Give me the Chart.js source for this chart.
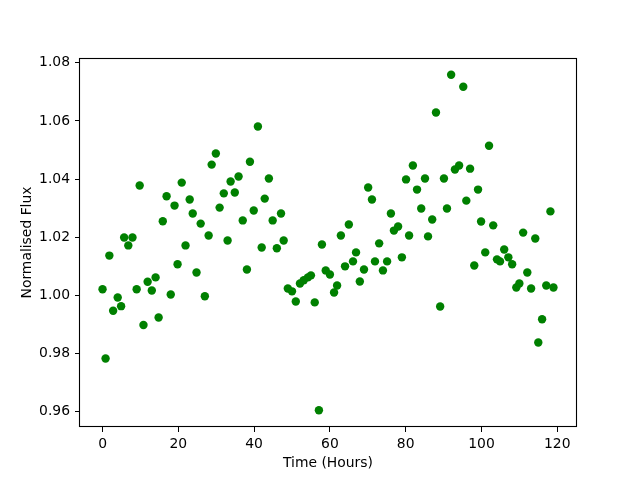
<!DOCTYPE html>
<html>
<head>
<meta charset="utf-8">
<script src="https://cdn.jsdelivr.net/npm/chart.js@4/dist/chart.umd.min.js"></script>
<style>
  html, body { margin: 0; padding: 0; background: #ffffff; }
  canvas { display: block; }
</style>
</head>
<body>
<canvas id="c" width="640" height="480"></canvas>
<script>
const timeHours = [
  0, 0.8, 1.8, 2.8, 4.0, 4.9, 5.7, 6.8, 7.9, 9.0,
  9.8, 10.8, 11.9, 13.0, 14.0, 14.8, 15.9, 16.9, 18.0, 19.0,
  19.8, 20.9, 21.9, 23.0, 23.8, 24.8, 25.9, 27.0, 28.0, 28.8,
  29.9, 30.9, 32.0, 33.0, 33.8, 34.9, 35.9, 37.0, 38.1, 38.9,
  39.9, 41.0, 42.0, 42.8, 43.9, 44.9, 46.0, 47.1, 47.8, 48.9,
  50.0, 51.0, 52.1, 53.1, 54.2, 55.0, 56.0, 57.1, 57.9, 58.9,
  60.0, 61.1, 61.9, 62.9, 64.0, 65.0, 66.1, 66.9, 67.9, 69.0,
  70.1, 71.1, 71.9, 73.0, 74.0, 75.1, 76.1, 76.9, 78.0, 79.0,
  80.1, 80.9, 81.9, 83.0, 84.1, 85.1, 85.9, 87.0, 88.0, 89.1,
  90.1, 90.9, 92.0, 93.0, 94.1, 95.2, 96.0, 97.0, 98.1, 99.1,
  99.9, 101.0, 102.0, 103.1, 104.1, 104.9, 106.0, 107.1, 108.1, 109.2,
  110.0, 111.0, 112.1, 113.1, 114.2, 115.0, 116.0, 117.1, 118.2, 119.0
];

const normalisedFlux = [
  1.0021, 0.9783, 1.0137, 0.9947, 0.9993, 0.9963, 1.0199, 1.0172, 1.0199, 1.0021,
  1.0378, 0.9898, 1.0047, 1.0017, 1.0062, 0.9924, 1.0255, 1.0341, 1.0003, 1.0309,
  1.0107, 1.0388, 1.0172, 1.0330, 1.0282, 1.0079, 1.0247, 0.9997, 1.0206, 1.0450,
  1.0488, 1.0302, 1.0351, 1.0189, 1.0392, 1.0354, 1.0409, 1.0258, 1.0089, 1.0460,
  1.0292, 1.0581, 1.0165, 1.0333, 1.0402, 1.0258, 1.0162, 1.0282, 1.0189, 1.0024,
  1.0014, 0.9979, 1.0041, 1.0052, 1.0062, 1.0069, 0.9976, 0.9605, 1.0175, 1.0086,
  1.0072, 1.0010, 1.0034, 1.0206, 1.0100, 1.0244, 1.0117, 1.0148, 1.0048, 1.0089,
  1.0371, 1.0330, 1.0117, 1.0179, 1.0086, 1.0117, 1.0282, 1.0223, 1.0237, 1.0131,
  1.0399, 1.0206, 1.0447, 1.0364, 1.0299, 1.0402, 1.0203, 1.0261, 1.0629, 0.9962,
  1.0402, 1.0299, 1.0759, 1.0433, 1.0447, 1.0718, 1.0326, 1.0436, 1.0103, 1.0364,
  1.0254, 1.0148, 1.0515, 1.0241, 1.0124, 1.0117, 1.0158, 1.0131, 1.0107, 1.0027,
  1.0041, 1.0216, 1.0079, 1.0024, 1.0196, 0.9838, 0.9918, 1.0034, 1.0289, 1.0027
];

const xTickValues = [0, 20, 40, 60, 80, 100, 120];
const yTickValues = [0.96, 0.98, 1.00, 1.02, 1.04, 1.06, 1.08];

const xAxisTitle = 'Time (Hours)';
const yAxisTitle = 'Normalised Flux';

const points = timeHours.map((t, i) => ({ x: t, y: normalisedFlux[i] }));

function paddedRange(arr) {
  const lo = Math.min(...arr), hi = Math.max(...arr);
  const m = (hi - lo) * 0.05;
  return [lo - m, hi + m];
}
const [xMin, xMax] = paddedRange(timeHours);
const [yMin, yMax] = paddedRange(normalisedFlux);

const FONT = "'DejaVu Sans', sans-serif";
const FS = 13.9;

const framePlugin = {
  id: 'frame',
  afterDraw(chart) {
    const { ctx, chartArea: a } = chart;
    ctx.save();
    ctx.strokeStyle = '#000000';
    ctx.lineWidth = 1.1;
    ctx.strokeRect(Math.round(a.left) - 0.5, Math.round(a.top) + 0.5,
                   Math.round(a.right - a.left) + 1, Math.round(a.bottom - a.top) - 1);
    ctx.fillStyle = '#000000';
    ctx.font = FS + 'px ' + FONT;
    ctx.textAlign = 'center';
    ctx.textBaseline = 'middle';
    ctx.fillText(xAxisTitle, (a.left + a.right) / 2, 463);
    ctx.translate(27, (a.top + a.bottom) / 2);
    ctx.rotate(-Math.PI / 2);
    ctx.fillText(yAxisTitle, 0, 0);
    ctx.restore();
  }
};

new Chart(document.getElementById('c'), {
  type: 'scatter',
  data: {
    datasets: [{
      data: points,
      backgroundColor: '#008000',
      borderColor: '#008000',
      borderWidth: 0,
      pointRadius: 4.2,
      pointHoverRadius: 4.2
    }]
  },
  options: {
    responsive: false,
    devicePixelRatio: 1,
    animation: false,
    events: [],
    layout: { padding: { left: 0, top: 58, right: 64, bottom: 0 } },
    plugins: { legend: { display: false }, tooltip: { enabled: false } },
    scales: {
      x: {
        type: 'linear',
        min: xMin,
        max: xMax,
        afterBuildTicks(scale) { scale.ticks = xTickValues.map(v => ({ value: v })); },
        afterFit(scale) { scale.height = 53; },
        grid: { drawOnChartArea: false, drawTicks: true, tickLength: 5, color: '#000000', tickWidth: 1 },
        border: { display: false },
        ticks: {
          color: '#000000',
          font: { family: FONT, size: FS },
          padding: 4,
          maxRotation: 0,
          autoSkip: false,
          callback: v => String(v)
        }
      },
      y: {
        type: 'linear',
        min: yMin,
        max: yMax,
        afterBuildTicks(scale) { scale.ticks = yTickValues.map(v => ({ value: v })); },
        afterFit(scale) { scale.width = 80; },
        grid: { drawOnChartArea: false, drawTicks: true, tickLength: 5, color: '#000000', tickWidth: 1 },
        border: { display: false },
        ticks: {
          color: '#000000',
          font: { family: FONT, size: FS },
          padding: 5,
          autoSkip: false,
          callback: v => Number(v).toFixed(2)
        }
      }
    }
  },
  plugins: [framePlugin]
});
</script>
</body>
</html>
